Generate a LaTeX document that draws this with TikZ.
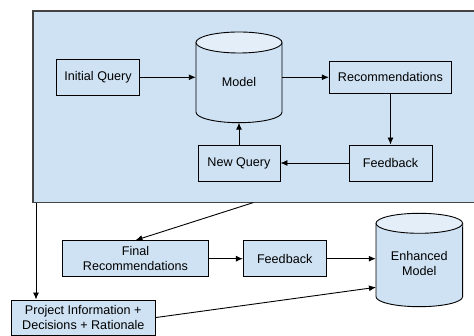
\documentclass[tikz,border=0pt]{standalone}
\usepackage{fontspec}
\setmainfont{Liberation Sans}
\usetikzlibrary{arrows.meta}
\definecolor{boxblue}{HTML}{CFE2F3}
\definecolor{toplight}{HTML}{E3EEF9}
\definecolor{frame}{HTML}{434343}
\tikzset{
  box/.style={draw=black, fill=boxblue, line width=0.9pt, inner sep=0pt, align=center,
    font=\fontsize{12.6}{14.5}\selectfont},
  lbl/.style={inner sep=0pt, align=center, font=\fontsize{12.6}{14.5}\selectfont},
  arr/.style={draw=black, line width=0.9pt, -{Latex[length=7pt,width=6pt]}},
  cyl/.style={draw=black, line width=0.9pt},
}
\begin{document}
\begin{tikzpicture}[x=1pt,y=-1pt]
\useasboundingbox (0,0) rectangle (474,336);
% container
\node[draw=frame, fill=boxblue, line width=1.6pt, minimum width=450pt, minimum height=191.6pt, inner sep=0pt]
  (container) at (258,106.8) {};
% Model cylinder
\fill[boxblue] (196,42.5) rectangle (282,112.2);
\fill[boxblue] (239,112.2) ellipse [x radius=43, y radius=10.5];
\draw[cyl] (196,42.5) -- (196,112.2) arc[start angle=180, end angle=0, x radius=43, y radius=10.5] -- (282,42.5);
\draw[cyl, fill=toplight] (239,42.5) ellipse [x radius=43, y radius=10.5];
\node[minimum width=86pt, minimum height=90.7pt, inner sep=0pt] (model) at (239,77.3) {};
\node[lbl] (modeltext) at (239,82) {Model};
\coordinate (modelbot) at (239,122.7);
% Enhanced model cylinder
\fill[boxblue] (376,223.3) rectangle (462.7,296.7);
\fill[boxblue] (419.3,296.7) ellipse [x radius=43.3, y radius=10];
\draw[cyl] (376,223.3) -- (376,296.7) arc[start angle=180, end angle=0, x radius=43.3, y radius=10] -- (462.7,223.3);
\draw[cyl, fill=toplight] (419.3,223.3) ellipse [x radius=43.3, y radius=10];
\node[minimum width=86.7pt, minimum height=93.4pt, inner sep=0pt] (enh) at (419.3,260) {};
\node[lbl] (enhtext) at (419.3,263.7) {Enhanced\\Model};
% boxes
\node[box, minimum width=82.6pt, minimum height=36pt] (iq) at (98,77.3) {Initial Query};
\node[box, minimum width=122.4pt, minimum height=32.3pt] (rec) at (390.5,77.3) {Recommendations};
\node[box, minimum width=83pt, minimum height=36pt] (fb) at (390.5,163) {Feedback};
\node[box, minimum width=82pt, minimum height=36pt] (nq) at (239,163) {New Query};
\node[box, minimum width=145.6pt, minimum height=36pt] (fr) at (135.5,258.7) {Final\\Recommendations};
\node[box, minimum width=82.7pt, minimum height=36pt] (fb2) at (284.7,258.7) {Feedback};
\node[box, minimum width=144.7pt, minimum height=35pt] (proj) at (83.3,317.5) {Project Information +\\Decisions + Rationale};
% connectors
\draw[arr] (iq.east) -- (model.west);
\draw[arr] (model.east) -- (rec.west);
\draw[arr] (rec.south) -- (fb.north);
\draw[arr] (fb.west) -- (nq.east);
\draw[arr] (nq.north) -- (modelbot);
\coordinate (c1) at (253.3,202.6);
\coordinate (c2) at (36,202.6);
\draw[arr] (c1) -- (fr.north);
\draw[arr] (c2) -- (c2 |- proj.north);
\draw[arr] (fr.east) -- (fb2.west);
\draw[arr] (fb2.east) -- (enh.west |- fb2.east);
\coordinate (enhin) at (376,287.3);
\draw[arr] (proj.east) -- (enhin);
\end{tikzpicture}
\end{document}
